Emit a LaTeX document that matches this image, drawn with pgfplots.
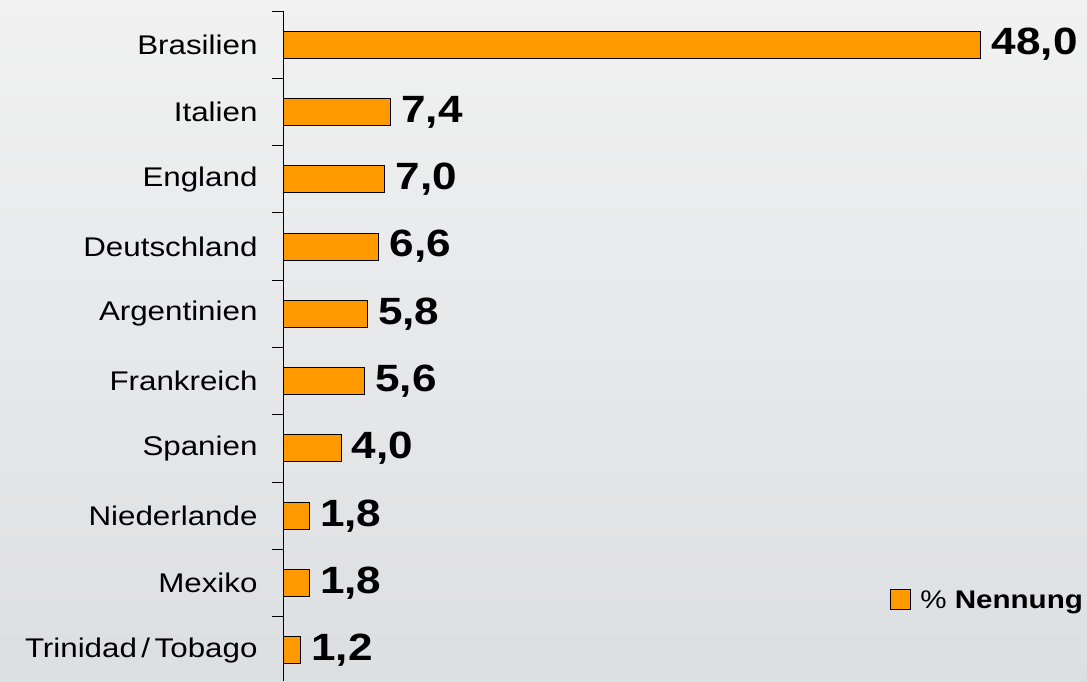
\documentclass[border=0pt]{standalone}
\usepackage{fontspec}
\setmainfont{Liberation Sans}[FakeStretch=1.16]
\usepackage{pgfplots}
\pgfplotsset{compat=1.18}
\definecolor{barorange}{HTML}{FF9900}
\definecolor{bgtop}{RGB}{241,241,241}
\definecolor{bgbot}{RGB}{220,223,226}
\begin{document}
\begin{tikzpicture}
\fill[top color=bgtop, bottom color=bgbot] (0pt,0pt) rectangle (1087pt,682pt);
\path[use as bounding box] (0pt,0pt) rectangle (1087pt,682pt);
\begin{axis}[
  at={(283pt,1.4pt)}, anchor=south west,
  scale only axis, width=727pt, height=669.6pt,
  xmin=0, xmax=50, ymin=-0.5, ymax=9.45, y dir=reverse,
  xbar, bar width=27pt,
  axis x line=none, axis y line*=left,
  axis line style={black, line width=1pt},
  ytick={0,...,9},
  yticklabels={Brasilien,Italien,England,Deutschland,Argentinien,Frankreich,Spanien,Niederlande,Mexiko,Trinidad\,/\,Tobago},
  yticklabel style={font=\fontsize{27}{30}\selectfont, anchor=east, xshift=-22pt},
  major tick length=0pt, minor tick length=11pt, tick align=outside,
  minor ytick={-0.5,0.5,...,8.5},
  tick style={black, line width=1pt},
  clip=false,
  nodes near coords={\pgfmathprintnumber[fixed,fixed zerofill,precision=1,use comma,assume math mode=true]{\pgfplotspointmeta}},
  nodes near coords style={font=\fontsize{38}{40}\selectfont\bfseries, anchor=west, black, xshift=7pt},
  legend style={at={(0.835,0.1204)}, anchor=west, draw=none, fill=none, inner sep=0pt,
    font=\fontsize{25.5}{30}\selectfont},
  legend image code/.code={\draw[#1] (0pt,-10pt) rectangle (20pt,10pt); \path (27pt,0pt);},
]
\addplot[fill=barorange, draw=black, line width=1pt] coordinates {
  (48.0,0) (7.4,1) (7.0,2) (6.6,3) (5.8,4) (5.6,5) (4.0,6) (1.8,7) (1.8,8) (1.2,9)
};
\addlegendentry{\% \textbf{Nennung}}
\end{axis}
\end{tikzpicture}
\end{document}
